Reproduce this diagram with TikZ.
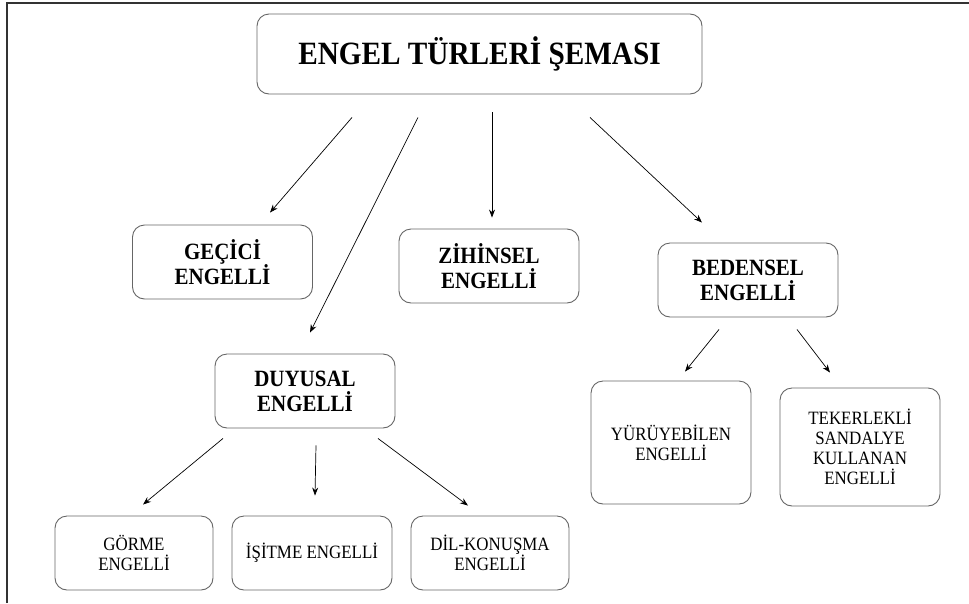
\documentclass[tikz,border=0pt]{standalone}
\usepackage{fontspec}
\setmainfont{Liberation Serif}[FakeStretch=0.9]
\usetikzlibrary{arrows.meta}
\tikzset{
  kutu/.style={draw=black!60, rounded corners=12pt, align=center, inner sep=0pt, line width=0.9pt},
  ust/.style={kutu, font=\fontsize{23.3}{25}\selectfont\bfseries, minimum width=180pt, minimum height=74pt},
  alt/.style={kutu, font=\fontsize{18.8}{20}\selectfont, minimum width=158pt, minimum height=74pt},
  ok/.style={-{Stealth[length=8pt,width=6pt]}, line width=0.7pt},
}

\begin{document}
\begin{tikzpicture}[x=1pt,y=-1pt]
      \useasboundingbox (0,0) rectangle (969,603);
      \draw[line width=1.5pt,black!80] (7,603)--(7,3)--(969,3);
      \node[kutu,font=\fontsize{32.5}{34}\selectfont\bfseries,minimum width=445pt,minimum height=80pt] (baslik) at (479.5,54) {ENGEL TÜRLERİ ŞEMASI};
      \node[ust] (gecici) at (222.5,262) {GEÇİCİ\\ENGELLİ};
      \node[ust] (zihinsel) at (489,266) {ZİHİNSEL\\ENGELLİ};
      \node[ust] (bedensel) at (748,280) {BEDENSEL\\ENGELLİ};
      \node[ust] (duyusal) at (305,391) {DUYUSAL\\ENGELLİ};
      \node[alt,minimum width=160pt,minimum height=123pt] (yuruyen) at (671,442.5) {YÜRÜYEBİLEN\\ENGELLİ};
      \node[alt,minimum width=160pt,minimum height=118pt] (tekerlekli) at (860,447) {TEKERLEKLİ\\SANDALYE\\KULLANAN\\ENGELLİ};
      \node[alt] (gorme) at (134,553) {GÖRME\\ENGELLİ};
      \node[alt,minimum width=160pt] (isitme) at (312,553) {İŞİTME ENGELLİ};
      \node[alt] (dil) at (490,553) {DİL-KONUŞMA\\ENGELLİ};
      \draw[ok] ([shift={(-127.5,23)}]baslik.south)--([shift={(47.5,-12)}]gecici.north);
      \draw[ok] ([shift={(-61.5,23)}]baslik.south)--([shift={(5,-21)}]duyusal.north);
      \draw[ok] ([shift={(12.5,18)}]baslik.south)--([shift={(3,-11)}]zihinsel.north);
      \draw[ok] ([shift={(110.5,23)}]baslik.south)--([shift={(-46,-20)}]bedensel.north);
      \draw[ok] ([shift={(-29,12)}]bedensel.south)--([shift={(14,-9)}]yuruyen.north);
      \draw[ok] ([shift={(49,12)}]bedensel.south)--([shift={(-30,-15)}]tekerlekli.north);
      \draw[ok] ([shift={(-82,10)}]duyusal.south)--([shift={(9,-11)}]gorme.north);
      \draw[ok] ([shift={(11,17)}]duyusal.south)--([shift={(3,-20)}]isitme.north);
      \draw[ok] ([shift={(73,10)}]duyusal.south)--([shift={(-22,-10)}]dil.north);
\end{tikzpicture}
\end{document}
